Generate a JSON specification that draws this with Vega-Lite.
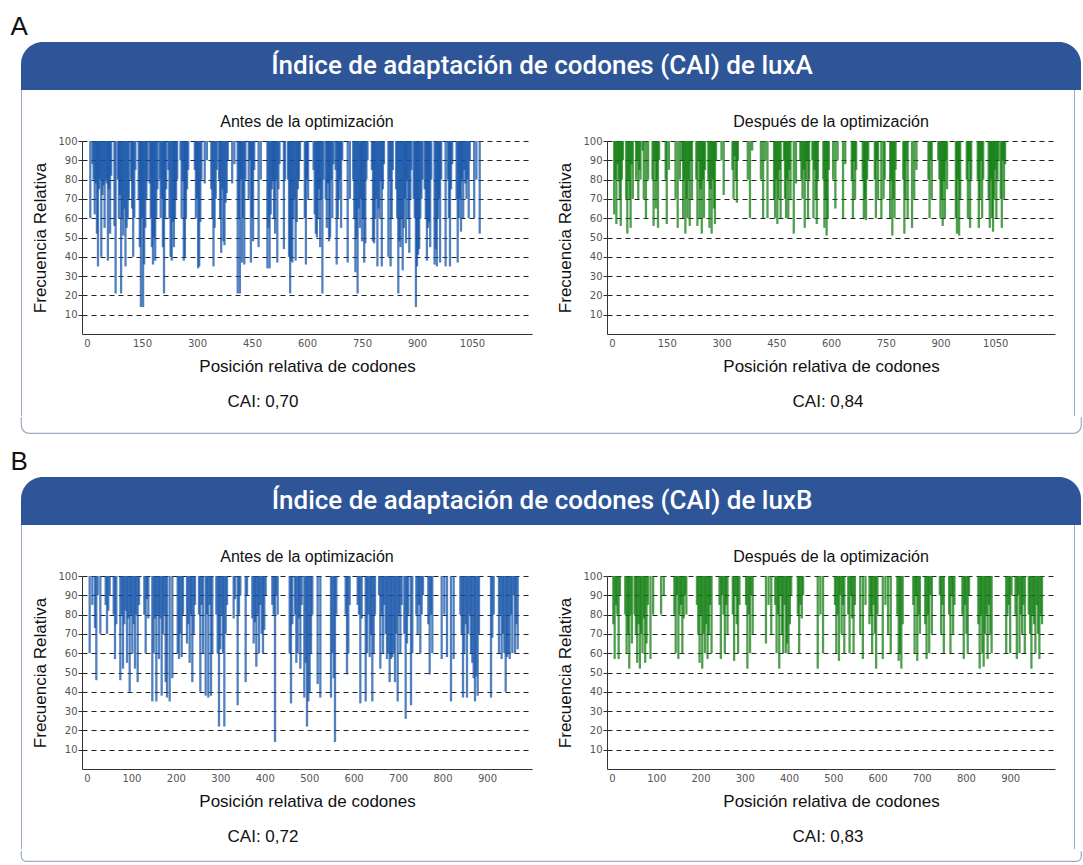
{
  "$schema": "https://vega.github.io/schema/vega-lite/v6.json",
  "padding": {"left": 10, "top": 14, "right": 0, "bottom": 0},
  "spacing": 15,
  "datasets": {
    "a1": [
      {"p":9,"v":60},
      {"p":15,"v":88},{"p":18,"v":80},{"p":21,"v":62},{"p":24,"v":78},{"p":27,"v":52},{"p":30,"v":35},{"p":33,"v":75},{"p":36,"v":80},{"p":39,"v":40},{"p":42,"v":72},{"p":45,"v":77},{"p":48,"v":55},{"p":51,"v":80},{"p":54,"v":78},{"p":57,"v":38},{"p":60,"v":75},{"p":63,"v":52},{"p":66,"v":82},
      {"p":75,"v":56},{"p":78,"v":21},
      {"p":84,"v":80},{"p":87,"v":60},{"p":90,"v":72},{"p":93,"v":21},{"p":96,"v":60},{"p":99,"v":51},{"p":102,"v":65},{"p":105,"v":35},{"p":108,"v":55},{"p":111,"v":60},{"p":114,"v":70},
      {"p":120,"v":80},{"p":123,"v":65},{"p":126,"v":40},{"p":129,"v":60},{"p":132,"v":85},
      {"p":141,"v":70},{"p":144,"v":45},{"p":147,"v":14},{"p":150,"v":60},{"p":153,"v":14},{"p":156,"v":36},{"p":159,"v":55},{"p":162,"v":70},{"p":165,"v":80},
      {"p":171,"v":78},{"p":174,"v":60},{"p":177,"v":45},{"p":180,"v":36},{"p":183,"v":50},{"p":186,"v":38},{"p":189,"v":60},{"p":192,"v":75},
      {"p":198,"v":80},{"p":201,"v":60},{"p":204,"v":70},{"p":207,"v":45},{"p":210,"v":21},{"p":213,"v":60},{"p":216,"v":75},
      {"p":222,"v":85},{"p":225,"v":60},{"p":228,"v":40},{"p":231,"v":38},{"p":234,"v":58},{"p":237,"v":45},{"p":240,"v":60},{"p":243,"v":70},{"p":246,"v":80},
      {"p":255,"v":90},{"p":258,"v":60},{"p":261,"v":80},{"p":264,"v":38},{"p":267,"v":40},{"p":270,"v":60},{"p":273,"v":75},{"p":276,"v":85},
      {"p":294,"v":85},{"p":297,"v":60},{"p":300,"v":70},{"p":303,"v":34},{"p":306,"v":35},{"p":309,"v":58},{"p":312,"v":80},
      {"p":321,"v":78},{"p":327,"v":90},
      {"p":339,"v":75},{"p":342,"v":60},{"p":345,"v":35},{"p":348,"v":55},{"p":351,"v":70},{"p":354,"v":85},
      {"p":360,"v":80},{"p":363,"v":60},{"p":366,"v":42},{"p":369,"v":75},{"p":372,"v":48},{"p":375,"v":46},{"p":378,"v":68},{"p":381,"v":73},{"p":384,"v":90},
      {"p":396,"v":78},{"p":402,"v":88},
      {"p":411,"v":21},{"p":414,"v":60},{"p":417,"v":21},{"p":420,"v":80},{"p":423,"v":37},{"p":426,"v":60},{"p":429,"v":36},{"p":432,"v":80},
      {"p":441,"v":70},{"p":444,"v":90},{"p":447,"v":37},{"p":450,"v":60},{"p":453,"v":48},{"p":456,"v":85},
      {"p":468,"v":45},{"p":474,"v":80},
      {"p":492,"v":34},{"p":495,"v":55},{"p":498,"v":34},{"p":501,"v":62},{"p":504,"v":75},{"p":507,"v":80},{"p":510,"v":60},{"p":513,"v":52},{"p":516,"v":80},{"p":519,"v":37},{"p":522,"v":75},{"p":525,"v":88},
      {"p":537,"v":44},{"p":540,"v":80},
      {"p":548,"v":80},{"p":551,"v":40},{"p":554,"v":21},{"p":557,"v":38},{"p":560,"v":37},{"p":563,"v":60},{"p":566,"v":70},{"p":569,"v":38},{"p":572,"v":58},{"p":575,"v":75},{"p":578,"v":80},{"p":581,"v":90},
      {"p":594,"v":60},{"p":597,"v":36},{"p":600,"v":80},{"p":603,"v":70},
      {"p":618,"v":85},{"p":621,"v":62},{"p":624,"v":52},{"p":627,"v":50},{"p":630,"v":60},{"p":633,"v":75},{"p":636,"v":45},{"p":639,"v":70},{"p":642,"v":21},{"p":645,"v":80},
      {"p":651,"v":70},{"p":654,"v":55},{"p":657,"v":78},{"p":660,"v":48},{"p":663,"v":50},{"p":666,"v":80},{"p":669,"v":60},{"p":672,"v":88},
      {"p":678,"v":85},{"p":681,"v":36},{"p":684,"v":60},{"p":687,"v":70},{"p":690,"v":80},{"p":693,"v":55},{"p":696,"v":90},
      {"p":711,"v":37},{"p":717,"v":70},
      {"p":726,"v":80},{"p":729,"v":60},{"p":732,"v":32},{"p":735,"v":50},{"p":738,"v":21},{"p":741,"v":65},{"p":744,"v":55},{"p":747,"v":70},{"p":750,"v":48},{"p":753,"v":60},{"p":756,"v":37},{"p":759,"v":47},{"p":762,"v":80},{"p":765,"v":90},
      {"p":777,"v":85},{"p":780,"v":48},{"p":783,"v":47},{"p":786,"v":60},{"p":789,"v":70},{"p":792,"v":35},{"p":795,"v":65},{"p":798,"v":60},{"p":801,"v":80},{"p":804,"v":35},{"p":807,"v":75},{"p":810,"v":88},
      {"p":822,"v":40},{"p":825,"v":80},{"p":828,"v":35},{"p":831,"v":60},{"p":834,"v":85},
      {"p":843,"v":75},{"p":846,"v":60},{"p":849,"v":21},{"p":852,"v":48},{"p":855,"v":45},{"p":858,"v":60},{"p":861,"v":33},{"p":864,"v":55},{"p":867,"v":70},{"p":870,"v":47},{"p":873,"v":80},{"p":876,"v":60},{"p":879,"v":42},{"p":882,"v":70},{"p":885,"v":85},
      {"p":891,"v":70},{"p":894,"v":60},{"p":897,"v":14},{"p":900,"v":35},{"p":903,"v":41},{"p":906,"v":44},{"p":909,"v":60},{"p":912,"v":70},{"p":915,"v":80},
      {"p":921,"v":75},{"p":924,"v":60},{"p":927,"v":38},{"p":930,"v":55},{"p":933,"v":58},{"p":936,"v":45},{"p":939,"v":80},
      {"p":948,"v":36},{"p":951,"v":44},{"p":954,"v":35},{"p":957,"v":60},{"p":960,"v":70},{"p":963,"v":37},{"p":966,"v":80},
      {"p":978,"v":35},{"p":984,"v":80},{"p":987,"v":60},{"p":990,"v":35},{"p":993,"v":75},{"p":996,"v":88},
      {"p":1008,"v":70},{"p":1011,"v":37},{"p":1014,"v":60},{"p":1017,"v":70},{"p":1020,"v":53},{"p":1023,"v":80},{"p":1026,"v":60},{"p":1029,"v":85},{"p":1032,"v":78},{"p":1035,"v":70},{"p":1038,"v":80},{"p":1041,"v":60},{"p":1044,"v":90},
      {"p":1056,"v":60},{"p":1062,"v":80},{"p":1071,"v":52}
    ],
    "a2": [
      {"p":6,"v":62},{"p":9,"v":80},{"p":12,"v":57},{"p":15,"v":88},{"p":18,"v":80},{"p":21,"v":70},{"p":24,"v":56},{"p":27,"v":80},{"p":30,"v":90},
      {"p":39,"v":70},{"p":42,"v":52},{"p":45,"v":80},{"p":48,"v":70},{"p":51,"v":55},{"p":54,"v":88},{"p":57,"v":70},
      {"p":66,"v":80},{"p":69,"v":90},{"p":72,"v":70},{"p":75,"v":85},{"p":78,"v":80},
      {"p":84,"v":95},{"p":87,"v":70},{"p":93,"v":60},{"p":99,"v":80},
      {"p":111,"v":80},{"p":114,"v":56},{"p":117,"v":90},{"p":120,"v":65},{"p":123,"v":80},{"p":126,"v":55},{"p":129,"v":90},
      {"p":147,"v":80},{"p":150,"v":57},{"p":156,"v":85},
      {"p":174,"v":70},{"p":180,"v":55},{"p":186,"v":80},
      {"p":192,"v":90},{"p":195,"v":60},{"p":198,"v":80},{"p":201,"v":52},{"p":204,"v":70},{"p":207,"v":60},{"p":210,"v":80},{"p":213,"v":56},{"p":216,"v":90},{"p":219,"v":70},
      {"p":231,"v":80},{"p":234,"v":56},{"p":237,"v":90},{"p":240,"v":60},{"p":243,"v":75},{"p":246,"v":52},{"p":249,"v":80},{"p":252,"v":60},{"p":255,"v":85},
      {"p":264,"v":80},{"p":267,"v":55},{"p":270,"v":75},{"p":273,"v":52},{"p":276,"v":80},{"p":279,"v":65},{"p":282,"v":57},{"p":285,"v":90},
      {"p":300,"v":90},{"p":306,"v":72},
      {"p":330,"v":85},{"p":333,"v":70},{"p":336,"v":92},{"p":339,"v":80},{"p":342,"v":68},{"p":345,"v":90},
      {"p":372,"v":80},{"p":378,"v":60},{"p":384,"v":95},
      {"p":408,"v":80},{"p":414,"v":60},{"p":420,"v":90},{"p":426,"v":60},
      {"p":444,"v":70},{"p":447,"v":60},{"p":450,"v":80},{"p":453,"v":57},{"p":456,"v":70},{"p":459,"v":85},{"p":462,"v":60},
      {"p":471,"v":90},{"p":474,"v":70},{"p":477,"v":60},{"p":480,"v":80},{"p":483,"v":60},{"p":486,"v":85},{"p":489,"v":70},
      {"p":498,"v":52},{"p":504,"v":78},
      {"p":516,"v":90},{"p":519,"v":80},{"p":522,"v":70},{"p":525,"v":85},{"p":528,"v":55},{"p":531,"v":80},{"p":534,"v":90},{"p":537,"v":60},{"p":540,"v":80},
      {"p":549,"v":90},{"p":552,"v":60},{"p":555,"v":85},{"p":558,"v":70},{"p":561,"v":57},{"p":564,"v":80},
      {"p":579,"v":80},{"p":582,"v":55},{"p":585,"v":70},{"p":588,"v":51},{"p":591,"v":60},{"p":594,"v":85},
      {"p":606,"v":80},{"p":612,"v":65},{"p":618,"v":90},
      {"p":633,"v":60},{"p":639,"v":88},
      {"p":657,"v":80},{"p":660,"v":60},{"p":663,"v":90},{"p":666,"v":70},{"p":669,"v":85},
      {"p":687,"v":80},{"p":690,"v":60},{"p":693,"v":70},{"p":696,"v":59},{"p":699,"v":80},{"p":702,"v":90},
      {"p":720,"v":80},{"p":723,"v":60},{"p":726,"v":90},{"p":729,"v":70},
      {"p":738,"v":60},{"p":744,"v":70},{"p":747,"v":80},
      {"p":762,"v":60},{"p":765,"v":80},{"p":768,"v":51},{"p":771,"v":70},{"p":774,"v":60},{"p":777,"v":85},
      {"p":798,"v":80},{"p":801,"v":52},{"p":804,"v":70},{"p":807,"v":90},{"p":810,"v":60},
      {"p":822,"v":55},{"p":828,"v":70},{"p":834,"v":85},
      {"p":867,"v":80},{"p":870,"v":60},{"p":873,"v":90},{"p":876,"v":70},
      {"p":894,"v":90},{"p":897,"v":80},{"p":900,"v":60},{"p":903,"v":70},{"p":906,"v":56},{"p":909,"v":80},{"p":912,"v":60},{"p":915,"v":90},{"p":918,"v":75},
      {"p":942,"v":60},{"p":945,"v":52},{"p":948,"v":80},{"p":951,"v":51},{"p":954,"v":70},
      {"p":972,"v":80},{"p":975,"v":60},{"p":978,"v":90},{"p":981,"v":55},{"p":984,"v":80},
      {"p":1002,"v":80},{"p":1005,"v":55},{"p":1008,"v":70},{"p":1011,"v":90},{"p":1014,"v":60},{"p":1017,"v":80},
      {"p":1032,"v":70},{"p":1035,"v":55},{"p":1038,"v":80},{"p":1041,"v":60},{"p":1044,"v":53},{"p":1047,"v":70},{"p":1050,"v":85},{"p":1053,"v":60},{"p":1056,"v":80},{"p":1059,"v":90},
      {"p":1065,"v":70},{"p":1068,"v":55},{"p":1071,"v":90},{"p":1074,"v":70},{"p":1077,"v":88}
    ],
    "b1": [
      {"p":6,"v":60},{"p":12,"v":85},{"p":18,"v":73},{"p":21,"v":46},{"p":24,"v":90},{"p":30,"v":70},
      {"p":42,"v":85},{"p":45,"v":70},{"p":48,"v":82},{"p":51,"v":90},
      {"p":60,"v":80},{"p":63,"v":57},{"p":66,"v":75},
      {"p":75,"v":46},{"p":78,"v":80},{"p":81,"v":52},{"p":84,"v":75},{"p":87,"v":82},{"p":90,"v":55},{"p":93,"v":78},{"p":96,"v":40},{"p":99,"v":80},{"p":102,"v":60},{"p":105,"v":75},{"p":108,"v":52},{"p":111,"v":80},{"p":114,"v":45},{"p":117,"v":85},
      {"p":129,"v":80},{"p":132,"v":60},{"p":135,"v":88},{"p":138,"v":78},
      {"p":147,"v":35},{"p":150,"v":60},{"p":153,"v":78},{"p":156,"v":35},{"p":159,"v":80},{"p":162,"v":57},{"p":165,"v":78},{"p":168,"v":38},{"p":171,"v":70},{"p":174,"v":80},{"p":177,"v":45},{"p":180,"v":37},
      {"p":186,"v":35},{"p":192,"v":47},
      {"p":204,"v":60},{"p":207,"v":57},{"p":210,"v":70},{"p":213,"v":58},{"p":216,"v":80},
      {"p":225,"v":65},{"p":228,"v":75},{"p":231,"v":55},{"p":234,"v":80},{"p":237,"v":45},{"p":240,"v":70},{"p":243,"v":85},
      {"p":252,"v":80},{"p":255,"v":40},{"p":258,"v":85},{"p":261,"v":60},
      {"p":267,"v":38},{"p":270,"v":80},{"p":273,"v":37},{"p":276,"v":85},{"p":279,"v":38},{"p":282,"v":60},
      {"p":291,"v":80},{"p":294,"v":60},{"p":297,"v":22},{"p":300,"v":62},{"p":303,"v":80},{"p":306,"v":60},{"p":309,"v":22},{"p":312,"v":70},{"p":315,"v":85},
      {"p":330,"v":78},{"p":333,"v":88},
      {"p":339,"v":33},{"p":342,"v":80},{"p":345,"v":90},
      {"p":357,"v":45},{"p":360,"v":90},
      {"p":372,"v":78},{"p":375,"v":65},{"p":378,"v":76},{"p":381,"v":53},{"p":384,"v":80},{"p":387,"v":60},{"p":390,"v":85},{"p":393,"v":70},{"p":396,"v":60},{"p":399,"v":72},{"p":402,"v":90},
      {"p":417,"v":85},{"p":420,"v":80},{"p":423,"v":14},{"p":426,"v":90},{"p":429,"v":80},
      {"p":456,"v":60},{"p":459,"v":34},{"p":462,"v":75},
      {"p":468,"v":80},{"p":471,"v":55},{"p":474,"v":60},{"p":477,"v":78},{"p":480,"v":52},{"p":483,"v":85},
      {"p":489,"v":37},{"p":492,"v":55},{"p":495,"v":22},{"p":498,"v":35},{"p":501,"v":40},{"p":504,"v":60},{"p":507,"v":80},
      {"p":519,"v":44},{"p":525,"v":37},
      {"p":549,"v":37},{"p":552,"v":60},{"p":555,"v":47},{"p":558,"v":14},{"p":561,"v":80},
      {"p":582,"v":80},{"p":585,"v":49},{"p":588,"v":60},{"p":591,"v":85},
      {"p":609,"v":85},{"p":612,"v":80},{"p":615,"v":34},{"p":618,"v":78},
      {"p":627,"v":35},{"p":630,"v":60},{"p":633,"v":80},{"p":636,"v":58},{"p":639,"v":70},{"p":642,"v":35},{"p":645,"v":60},{"p":648,"v":80},
      {"p":657,"v":90},{"p":660,"v":52},{"p":663,"v":80},{"p":666,"v":60},{"p":669,"v":85},
      {"p":672,"v":70},{"p":675,"v":57},{"p":678,"v":60},{"p":681,"v":45},{"p":684,"v":57},{"p":687,"v":58},{"p":690,"v":60},{"p":693,"v":45},{"p":696,"v":70},{"p":699,"v":35},{"p":702,"v":80},{"p":705,"v":60},{"p":708,"v":85},
      {"p":714,"v":70},{"p":717,"v":26},{"p":720,"v":65},{"p":723,"v":80},
      {"p":729,"v":33},{"p":732,"v":60},
      {"p":741,"v":80},{"p":744,"v":70},{"p":747,"v":85},{"p":750,"v":60},{"p":753,"v":80},{"p":756,"v":90},
      {"p":768,"v":75},{"p":771,"v":49},{"p":774,"v":80},{"p":777,"v":60},
      {"p":798,"v":57},{"p":804,"v":80},{"p":810,"v":58},
      {"p":819,"v":35},{"p":825,"v":57},
      {"p":840,"v":80},{"p":843,"v":70},{"p":846,"v":37},{"p":849,"v":60},{"p":852,"v":75},{"p":855,"v":37},{"p":858,"v":70},{"p":861,"v":80},{"p":864,"v":60},
      {"p":867,"v":55},{"p":870,"v":47},{"p":873,"v":35},{"p":876,"v":48},{"p":879,"v":38},{"p":882,"v":70},
      {"p":909,"v":37},{"p":912,"v":68},{"p":915,"v":80},
      {"p":927,"v":60},{"p":930,"v":80},{"p":933,"v":57},{"p":936,"v":70},{"p":939,"v":60},{"p":942,"v":40},{"p":945,"v":58},{"p":948,"v":60},{"p":951,"v":57},{"p":954,"v":80},{"p":957,"v":60},{"p":960,"v":90},{"p":963,"v":60},{"p":966,"v":75},{"p":969,"v":62}
    ],
    "b2": [
      {"p":3,"v":75},{"p":6,"v":57},{"p":9,"v":85},{"p":12,"v":80},{"p":15,"v":57},{"p":18,"v":90},
      {"p":30,"v":80},{"p":33,"v":60},{"p":36,"v":70},{"p":39,"v":52},{"p":42,"v":80},{"p":45,"v":65},
      {"p":51,"v":80},{"p":54,"v":70},{"p":57,"v":55},{"p":60,"v":75},{"p":63,"v":52},{"p":66,"v":70},{"p":69,"v":60},{"p":72,"v":78},{"p":75,"v":55},{"p":78,"v":65},{"p":81,"v":85},
      {"p":87,"v":57},{"p":93,"v":80},
      {"p":111,"v":80},{"p":117,"v":90},
      {"p":141,"v":80},{"p":144,"v":60},{"p":147,"v":90},{"p":150,"v":57},{"p":153,"v":80},{"p":156,"v":85},{"p":159,"v":60},{"p":162,"v":78},{"p":165,"v":90},{"p":168,"v":80},
      {"p":192,"v":85},{"p":195,"v":70},{"p":198,"v":55},{"p":201,"v":80},{"p":204,"v":52},{"p":207,"v":70},{"p":210,"v":60},{"p":213,"v":75},{"p":216,"v":57},{"p":219,"v":70},{"p":222,"v":85},{"p":225,"v":60},
      {"p":243,"v":85},{"p":246,"v":57},{"p":249,"v":90},{"p":252,"v":80},{"p":255,"v":60},{"p":258,"v":85},{"p":261,"v":70},
      {"p":273,"v":80},{"p":276,"v":56},{"p":279,"v":90},{"p":282,"v":75},{"p":285,"v":60},{"p":288,"v":85},
      {"p":303,"v":85},{"p":306,"v":52},{"p":309,"v":80},{"p":312,"v":60},{"p":315,"v":90},{"p":318,"v":70},
      {"p":348,"v":65},{"p":354,"v":85},{"p":360,"v":70},
      {"p":369,"v":85},{"p":372,"v":60},{"p":375,"v":80},{"p":378,"v":52},{"p":381,"v":90},{"p":384,"v":70},{"p":387,"v":60},{"p":390,"v":85},
      {"p":393,"v":60},{"p":396,"v":65},{"p":399,"v":60},{"p":402,"v":75},{"p":405,"v":90},
      {"p":420,"v":80},{"p":423,"v":60},{"p":426,"v":85},{"p":429,"v":78},{"p":432,"v":90},
      {"p":465,"v":52},{"p":471,"v":80},{"p":477,"v":60},
      {"p":504,"v":85},{"p":507,"v":60},{"p":510,"v":80},{"p":513,"v":56},{"p":516,"v":90},{"p":519,"v":70},{"p":522,"v":85},{"p":525,"v":60},
      {"p":534,"v":80},{"p":537,"v":60},{"p":540,"v":90},{"p":543,"v":78},{"p":546,"v":60},{"p":549,"v":85},
      {"p":561,"v":70},{"p":567,"v":57},{"p":573,"v":85},
      {"p":582,"v":75},{"p":585,"v":80},{"p":588,"v":60},{"p":591,"v":85},{"p":594,"v":70},{"p":597,"v":52},{"p":600,"v":80},
      {"p":612,"v":57},{"p":618,"v":85},{"p":624,"v":70},{"p":630,"v":60},
      {"p":645,"v":80},{"p":648,"v":56},{"p":651,"v":60},{"p":654,"v":52},{"p":657,"v":75},
      {"p":681,"v":85},{"p":684,"v":60},{"p":687,"v":90},{"p":690,"v":56},{"p":693,"v":80},{"p":696,"v":70},
      {"p":708,"v":75},{"p":711,"v":57},{"p":714,"v":80},{"p":717,"v":60},{"p":720,"v":90},{"p":723,"v":70},
      {"p":741,"v":90},{"p":744,"v":70},{"p":747,"v":85},{"p":750,"v":60},
      {"p":762,"v":80},{"p":765,"v":60},{"p":768,"v":90},{"p":771,"v":70},{"p":774,"v":85},
      {"p":792,"v":80},{"p":795,"v":57},{"p":798,"v":85},{"p":801,"v":70},{"p":804,"v":60},{"p":807,"v":90},
      {"p":828,"v":75},{"p":831,"v":52},{"p":834,"v":80},{"p":837,"v":60},{"p":840,"v":53},{"p":843,"v":70},{"p":846,"v":80},{"p":849,"v":57},{"p":852,"v":85},{"p":855,"v":70},{"p":858,"v":60},
      {"p":891,"v":60},{"p":894,"v":80},{"p":897,"v":85},{"p":900,"v":60},{"p":903,"v":90},
      {"p":912,"v":80},{"p":915,"v":57},{"p":918,"v":90},{"p":921,"v":60},{"p":924,"v":80},{"p":927,"v":70},{"p":930,"v":85},{"p":933,"v":60},
      {"p":942,"v":80},{"p":945,"v":70},{"p":948,"v":52},{"p":951,"v":80},{"p":954,"v":75},{"p":957,"v":60},{"p":960,"v":85},{"p":963,"v":70},{"p":966,"v":57},{"p":969,"v":80},{"p":972,"v":75}
    ]
  },
  "vconcat": [
    {
      "title": {"text": "A", "anchor": "start", "fontSize": 26, "offset": 2, "dx": -10},
      "spacing": 0,
      "vconcat": [
        {
          "width": 1060, "height": 48,
          "view": {"style": "hdr"},
          "data": {"values": [{"t": "Índice de adaptación de codones (CAI) de luxA"}]},
          "mark": {"type": "text", "color": "white", "fontSize": 26, "font": "Roboto", "fontWeight": 500, "dx": -9},
          "encoding": {"text": {"field": "t"}}
        },
        {
          "spacing": 9,
          "hconcat": [
            {
              "width": 1, "height": 326,
              "view": {"fill": "#9aa9c4", "stroke": null},
              "data": {"values": [{"t": ""}]},
              "mark": "text",
              "encoding": {"text": {"field": "t"}}
            },
            {
              "spacing": 19,
              "hconcat": [
                {
                  "spacing": 6,
                  "vconcat": [
                    {
                      "spacing": 75,
                      "hconcat": [
                        {
                          "width": 450, "height": 40,
                          "data": {"values": [{"t": "Antes de la optimización"}]},
                          "mark": {"type": "text", "fontSize": 16, "color": "#111", "dy": 12},
                          "encoding": {"text": {"field": "t"}}
                        },
                        {
                          "width": 448, "height": 40,
                          "data": {"values": [{"t": "Después de la optimización"}]},
                          "mark": {"type": "text", "fontSize": 16, "color": "#111", "dy": 12},
                          "encoding": {"text": {"field": "t"}}
                        }
                      ]
                    },
                    {
                      "spacing": 24,
                      "hconcat": [
                        {
                          "width": 450, "height": 193,
                          "title": {"text": "CAI: 0,70", "orient": "bottom", "frame": "group", "offset": 20, "dx": -44},
                          "data": {"name": "a1"},
                          "mark": {"type": "bar", "color": "#1150a6", "opacity": 0.72, "size": 2.3},
                          "encoding": {
                            "x": {"field": "p", "type": "quantitative", "scale": {"domain": [0, 1200], "nice": false},
                                  "axis": {"values": [0,150,300,450,600,750,900,1050], "title": "Posición relativa de codones"}},
                            "y": {"field": "v", "type": "quantitative", "scale": {"domain": [0, 100], "nice": false},
                                  "axis": {"values": [10,20,30,40,50,60,70,80,90,100], "title": "Frecuencia Relativa"}},
                            "y2": {"datum": 100}
                          }
                        },
                        {
                          "width": 448, "height": 193,
                          "title": {"text": "CAI: 0,84", "orient": "bottom", "frame": "group", "offset": 20, "dx": -3},
                          "data": {"name": "a2"},
                          "mark": {"type": "bar", "color": "#0b7a0b", "opacity": 0.72, "size": 2.3},
                          "encoding": {
                            "x": {"field": "p", "type": "quantitative", "scale": {"domain": [0, 1200], "nice": false},
                                  "axis": {"values": [0,150,300,450,600,750,900,1050], "title": "Posición relativa de codones"}},
                            "y": {"field": "v", "type": "quantitative", "scale": {"domain": [0, 100], "nice": false},
                                  "axis": {"values": [10,20,30,40,50,60,70,80,90,100], "title": "Frecuencia Relativa"}},
                            "y2": {"datum": 100}
                          }
                        }
                      ]
                    }
                  ]
                },
                {
                  "width": 1, "height": 326,
                  "view": {"fill": "#9aa9c4", "stroke": null},
                  "data": {"values": [{"t": ""}]},
                  "mark": "text",
                  "encoding": {"text": {"field": "t"}}
                }
              ]
            }
          ]
        },
        {
          "width": 1060, "height": 16,
          "view": {"style": "frbotA"},
          "data": {"values": [{"t": ""}]},
          "mark": "text",
          "encoding": {"text": {"field": "t"}}
        }
      ]
    },
    {
      "title": {"text": "B", "anchor": "start", "fontSize": 26, "offset": 2, "dx": -10},
      "spacing": 0,
      "vconcat": [
        {
          "width": 1060, "height": 48,
          "view": {"style": "hdr"},
          "data": {"values": [{"t": "Índice de adaptación de codones (CAI) de luxB"}]},
          "mark": {"type": "text", "color": "white", "fontSize": 26, "font": "Roboto", "fontWeight": 500, "dx": -9},
          "encoding": {"text": {"field": "t"}}
        },
        {
          "spacing": 9,
          "hconcat": [
            {
              "width": 1, "height": 324,
              "view": {"fill": "#9aa9c4", "stroke": null},
              "data": {"values": [{"t": ""}]},
              "mark": "text",
              "encoding": {"text": {"field": "t"}}
            },
            {
              "spacing": 19,
              "hconcat": [
                {
                  "spacing": 6,
                  "vconcat": [
                    {
                      "spacing": 75,
                      "hconcat": [
                        {
                          "width": 450, "height": 40,
                          "data": {"values": [{"t": "Antes de la optimización"}]},
                          "mark": {"type": "text", "fontSize": 16, "color": "#111", "dy": 12},
                          "encoding": {"text": {"field": "t"}}
                        },
                        {
                          "width": 448, "height": 40,
                          "data": {"values": [{"t": "Después de la optimización"}]},
                          "mark": {"type": "text", "fontSize": 16, "color": "#111", "dy": 12},
                          "encoding": {"text": {"field": "t"}}
                        }
                      ]
                    },
                    {
                      "spacing": 24,
                      "hconcat": [
                        {
                          "width": 450, "height": 193,
                          "title": {"text": "CAI: 0,72", "orient": "bottom", "frame": "group", "offset": 20, "dx": -44},
                          "data": {"name": "b1"},
                          "mark": {"type": "bar", "color": "#1150a6", "opacity": 0.72, "size": 2.3},
                          "encoding": {
                            "x": {"field": "p", "type": "quantitative", "scale": {"domain": [0, 990], "nice": false},
                                  "axis": {"values": [0,100,200,300,400,500,600,700,800,900], "title": "Posición relativa de codones"}},
                            "y": {"field": "v", "type": "quantitative", "scale": {"domain": [0, 100], "nice": false},
                                  "axis": {"values": [10,20,30,40,50,60,70,80,90,100], "title": "Frecuencia Relativa"}},
                            "y2": {"datum": 100}
                          }
                        },
                        {
                          "width": 448, "height": 193,
                          "title": {"text": "CAI: 0,83", "orient": "bottom", "frame": "group", "offset": 20, "dx": -3},
                          "data": {"name": "b2"},
                          "mark": {"type": "bar", "color": "#0b7a0b", "opacity": 0.72, "size": 2.3},
                          "encoding": {
                            "x": {"field": "p", "type": "quantitative", "scale": {"domain": [0, 990], "nice": false},
                                  "axis": {"values": [0,100,200,300,400,500,600,700,800,900], "title": "Posición relativa de codones"}},
                            "y": {"field": "v", "type": "quantitative", "scale": {"domain": [0, 100], "nice": false},
                                  "axis": {"values": [10,20,30,40,50,60,70,80,90,100], "title": "Frecuencia Relativa"}},
                            "y2": {"datum": 100}
                          }
                        }
                      ]
                    }
                  ]
                },
                {
                  "width": 1, "height": 324,
                  "view": {"fill": "#9aa9c4", "stroke": null},
                  "data": {"values": [{"t": ""}]},
                  "mark": "text",
                  "encoding": {"text": {"field": "t"}}
                }
              ]
            }
          ]
        },
        {
          "width": 1060, "height": 10,
          "view": {"style": "frbotB"},
          "data": {"values": [{"t": ""}]},
          "mark": "text",
          "encoding": {"text": {"field": "t"}}
        }
      ]
    }
  ],
  "config": {
    "font": "Liberation Sans",
    "view": {"stroke": null},
    "title": {"fontSize": 17, "fontWeight": "normal", "color": "#111"},
    "axis": {"domainColor": "#333", "labelFont": "DejaVu Sans", "labelFontSize": 10, "labelColor": "#555", "titleFont": "Liberation Sans", "titleFontWeight": "normal", "titleColor": "#111", "titleFontSize": 17, "labelOverlap": false},
    "axisX": {"ticks": false, "grid": false, "labelPadding": 4, "titlePadding": 10, "format": "d"},
    "axisY": {"grid": true, "gridDash": [5, 4], "gridColor": "#222", "gridWidth": 1, "tickColor": "#333", "tickSize": 4, "labelPadding": 1, "titlePadding": 8, "zindex": 1},
    "style": {
      "hdr": {"fill": "#2e5597", "stroke": null, "cornerRadiusTopLeft": 22, "cornerRadiusTopRight": 22},
      "frbotA": {"fill": null, "stroke": "#9aa9c4", "strokeWidth": 1.2, "cornerRadiusBottomLeft": 16, "cornerRadiusBottomRight": 16, "strokeDash": [0, 1060, 4000]},
      "frbotB": {"fill": null, "stroke": "#9aa9c4", "strokeWidth": 1.2, "cornerRadiusBottomLeft": 10, "cornerRadiusBottomRight": 10, "strokeDash": [0, 1060, 4000]}
    }
  }
}
